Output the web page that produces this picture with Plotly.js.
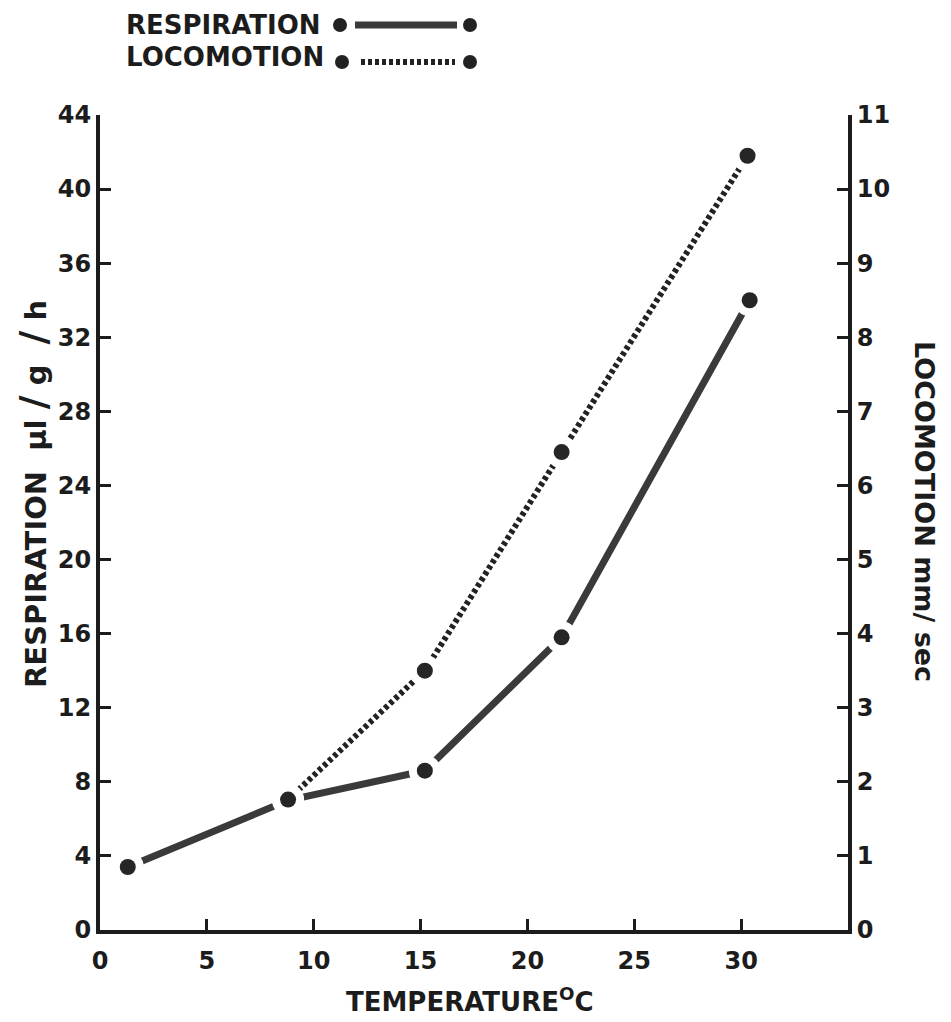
<!DOCTYPE html>
<html>
<head>
<meta charset="utf-8">
<script src="https://cdn.plot.ly/plotly-3.0.1.min.js"></script>
<style>
  html, body { margin: 0; padding: 0; background: #fff; }
  #chart { width: 951px; height: 1022px; }
</style>
</head>
<body>
<div id="chart"></div>
<script>
// ---- data ----
const respTemp = [1.3, 8.8, 15.2, 21.6, 30.4];
const respValues = [3.4, 7.0, 8.6, 15.8, 34.0];           // µl/g/h (left axis)
const locoTemp = [8.8, 15.2, 21.6, 30.3];
const locoValues = [1.76, 3.5, 6.45, 10.45];               // mm/sec (right axis)
const xTicks = [0, 5, 10, 15, 20, 25, 30];
const yLeftTicks = [0, 4, 8, 12, 16, 20, 24, 28, 32, 36, 40, 44];
const yRightTicks = [0, 1, 2, 3, 4, 5, 6, 7, 8, 9, 10, 11];

// ---- layout geometry ----
const W = 951, H = 1022;
const M = { l: 100, r: 103, t: 115, b: 92 };
const PW = W - M.l - M.r, PH = H - M.t - M.b;
const px = x => (x - M.l) / PW;
const py = y => (H - M.b - y) / PH;

const FONT = 'DejaVu Sans';
const INK = '#1c1c1c';
const LINE = '#3a3a3a';
const DOT = '#262626';

const tickFont = { family: FONT, size: 24, color: INK, weight: 'bold' };

function halo(xs, ys, axis) {
  return { x: xs, y: ys, yaxis: axis, mode: 'markers', cliponaxis: false, hoverinfo: 'skip',
    marker: { color: '#ffffff', size: 32 }, showlegend: false };
}
function dots(xs, ys, axis) {
  return { x: xs, y: ys, yaxis: axis, mode: 'markers', cliponaxis: false, hoverinfo: 'skip',
    marker: { color: DOT, size: 16 }, showlegend: false };
}

const traces = [
  { x: respTemp, y: respValues, yaxis: 'y', mode: 'lines',
    line: { color: LINE, width: 7 }, hoverinfo: 'skip', showlegend: false },
  halo(respTemp, respValues, 'y'),
  dots(respTemp, respValues, 'y'),
  { x: locoTemp, y: locoValues, yaxis: 'y2', mode: 'lines',
    line: { color: '#222', width: 6, dash: '4px,3px' }, hoverinfo: 'skip', showlegend: false },
  halo(locoTemp, locoValues, 'y2'),
  dots(locoTemp, locoValues, 'y2')
];

function dot(cx, cy, r) {
  return { type: 'circle', xref: 'paper', yref: 'paper',
    xsizemode: 'pixel', ysizemode: 'pixel', xanchor: px(cx), yanchor: py(cy),
    x0: -r, x1: r, y0: -r, y1: r, fillcolor: '#222', line: { width: 0 } };
}

const shapes = [
  dot(340, 25, 7), dot(470, 25, 7),
  { type: 'line', xref: 'paper', yref: 'paper', x0: px(355), x1: px(457), y0: py(25), y1: py(25),
    line: { color: LINE, width: 7 } },
  dot(342, 62, 7), dot(470, 62, 7),
  { type: 'line', xref: 'paper', yref: 'paper', x0: px(361), x1: px(455), y0: py(62), y1: py(62),
    line: { color: '#222', width: 6, dash: '4px,3px' } }
];

const titleFont = { family: FONT, size: 26, color: INK, weight: 'bold' };
const leftTitleFont = { family: FONT, size: 29, color: INK, weight: 'bold' };
const bigSlash = '<span style="font-size:38px">/</span>';

const annotations = [
  { text: 'RESPIRATION', xref: 'paper', yref: 'paper', x: px(124), y: py(25),
    xanchor: 'left', yanchor: 'middle', showarrow: false, font: titleFont },
  { text: 'LOCOMOTION', xref: 'paper', yref: 'paper', x: px(124), y: py(57),
    xanchor: 'left', yanchor: 'middle', showarrow: false, font: titleFont },
  { text: 'RESPIRATION  μl ' + bigSlash + ' g  ' + bigSlash + ' h', xref: 'paper', yref: 'paper',
    x: px(33), y: py(494),
    xanchor: 'center', yanchor: 'middle', textangle: -90, showarrow: false, font: leftTitleFont },
  { text: 'LOCOMOTION mm/ sec', xref: 'paper', yref: 'paper', x: px(925), y: py(511),
    xanchor: 'center', yanchor: 'middle', textangle: 90, showarrow: false,
    font: { family: FONT, size: 27, color: INK, weight: 'bold' } },
  { text: 'TEMPERATURE<sup>O</sup>C', xref: 'paper', yref: 'paper', x: px(470), y: py(1000),
    xanchor: 'center', yanchor: 'middle', showarrow: false, font: titleFont }
];

const axisCommon = {
  showgrid: false, zeroline: false, showline: true, linecolor: INK, linewidth: 4,
  ticks: 'inside', ticklen: 11, tickwidth: 3, tickcolor: INK, tickfont: tickFont,
  fixedrange: true
};

const layout = {
  width: W, height: H, margin: M,
  paper_bgcolor: '#fff', plot_bgcolor: '#fff',
  showlegend: false,
  xaxis: Object.assign({}, axisCommon, { range: [0, 35], tickmode: 'array', tickvals: xTicks,
    ticktext: xTicks.map(String), ticklabelstandoff: 6 }),
  yaxis: Object.assign({}, axisCommon, { range: [0, 44], tickmode: 'array', tickvals: yLeftTicks,
    ticktext: yLeftTicks.map(String) }),
  yaxis2: Object.assign({}, axisCommon, { range: [0, 11], overlaying: 'y', side: 'right',
    tickmode: 'array', tickvals: yRightTicks, ticktext: yRightTicks.map(String) }),
  shapes: shapes,
  annotations: annotations
};

Plotly.newPlot('chart', traces, layout, { staticPlot: true, displayModeBar: false });
</script>
</body>
</html>
